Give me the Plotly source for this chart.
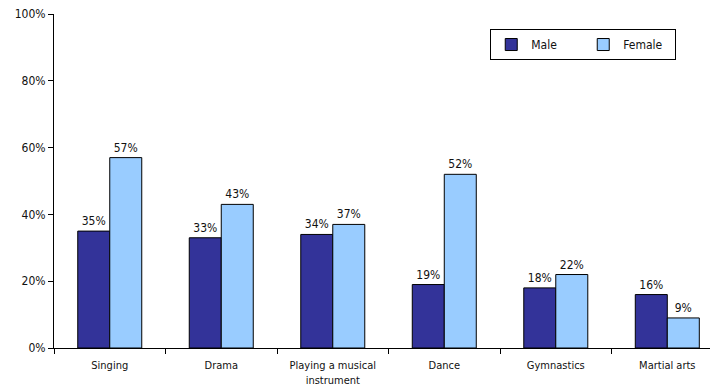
import plotly.graph_objects as go

categories = ["Singing", "Drama", "Playing a musical<br>instrument", "Dance", "Gymnastics", "Martial arts"]
male = [0.35, 0.33, 0.34, 0.19, 0.18, 0.16]
female = [0.57, 0.43, 0.37, 0.52, 0.22, 0.09]
y_ticks = [0, 0.2, 0.4, 0.6, 0.8, 1.0]

FONT = "DejaVu Sans Condensed, DejaVu Sans, sans-serif"

fig = go.Figure()
for name, vals, color in [("Male", male, "#333399"), ("Female", female, "#99CCFF")]:
    fig.add_trace(go.Bar(
        name=name, x=categories, y=vals,
        marker=dict(color=color, line=dict(color="black", width=1)),
        text=[f"{v:.0%}" for v in vals], textposition="outside",
        textfont=dict(family=FONT, size=12, color="#111111"),
        cliponaxis=False,
    ))

fig.update_layout(
    width=710, height=387,
    margin=dict(l=54, r=0, t=14, b=39, autoexpand=False),
    plot_bgcolor="white", paper_bgcolor="white",
    barmode="group", bargap=0.426, bargroupgap=0,
    font=dict(family=FONT, size=11, color="#111111"),
    showlegend=True,
    legend=dict(
        orientation="h", x=0.665, y=0.955, xanchor="left", yanchor="top",
        bordercolor="black", borderwidth=1, bgcolor="white",
        entrywidth=47, font=dict(size=12),
    ),
    xaxis=dict(
        type="category", range=[-0.5, 5.383], automargin=False,
        showline=True, linecolor="black", linewidth=1,
        ticks="outside", tickson="boundaries", ticklen=5, tickcolor="black",
        ticklabelstandoff=7,
        showgrid=False, zeroline=False, tickfont=dict(size=11),
    ),
    yaxis=dict(
        range=[0, 1], tickvals=y_ticks, tickformat=".0%", automargin=False,
        showline=True, linecolor="black", linewidth=1,
        ticks="outside", ticklen=5, tickcolor="black",
        showgrid=False, zeroline=False, tickfont=dict(size=12),
    ),
)

fig.write_html("out.html")
